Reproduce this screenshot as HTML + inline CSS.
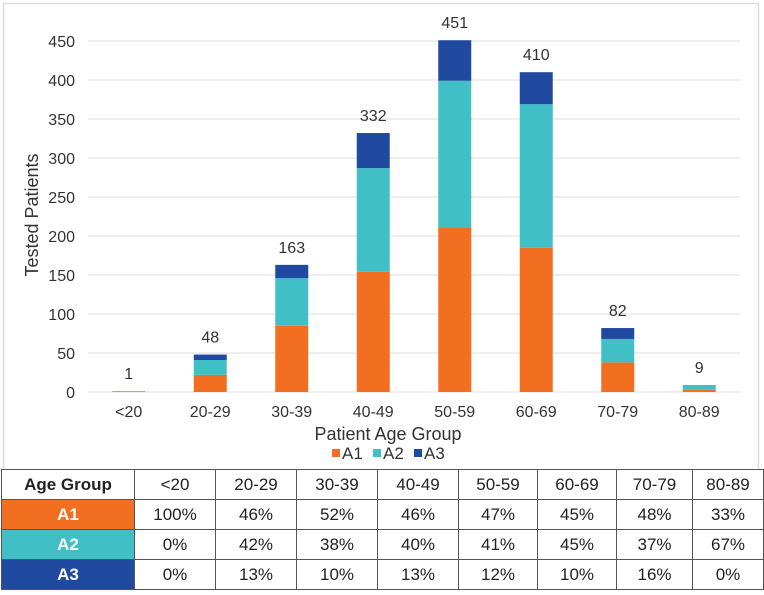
<!DOCTYPE html>
<html><head><meta charset="utf-8"><style>
body{margin:0;background:#fff;font-family:"Liberation Sans",Arial,sans-serif;}
#wrap{position:relative;width:764px;height:595px;overflow:hidden;}
svg{position:absolute;left:0;top:0;}
table{position:absolute;left:1px;top:469px;border-collapse:collapse;font-size:17px;table-layout:fixed;}
td{border:1px solid #555;height:29px;text-align:center;padding:0;color:#222;}
td.h{font-weight:bold;color:#fff;}
</style></head><body><div id="wrap">
<svg id="chart" width="764" height="469"></svg>
<table>
<colgroup><col style="width:133px"><col style="width:81px"><col style="width:81px"><col style="width:81px"><col style="width:81px"><col style="width:79px"><col style="width:79px"><col style="width:76px"><col style="width:71px"></colgroup>
<tr><td style="font-weight:bold">Age Group</td><td>&lt;20</td><td>20-29</td><td>30-39</td><td>40-49</td><td>50-59</td><td>60-69</td><td>70-79</td><td>80-89</td></tr>
<tr><td class="h" style="background:#f26f21">A1</td><td>100%</td><td>46%</td><td>52%</td><td>46%</td><td>47%</td><td>45%</td><td>48%</td><td>33%</td></tr>
<tr><td class="h" style="background:#40c0c6">A2</td><td>0%</td><td>42%</td><td>38%</td><td>40%</td><td>41%</td><td>45%</td><td>37%</td><td>67%</td></tr>
<tr><td class="h" style="background:#1f4aa0">A3</td><td>0%</td><td>13%</td><td>10%</td><td>13%</td><td>12%</td><td>10%</td><td>16%</td><td>0%</td></tr>
</table>
</div>
<script>
const categories=["<20","20-29","30-39","40-49","50-59","60-69","70-79","80-89"];
const a1=[1,22,85,154,211,185,38,3];
const a2=[0,19,61,133,188,184,30,6];
const a3=[0,7,17,45,52,41,14,0];
const totals=[1,48,163,332,451,410,82,9];
const yTicks=[0,50,100,150,200,250,300,350,400,450];
const NS="http://www.w3.org/2000/svg";
const svg=document.getElementById('chart');
const x0=88,x1=740,y0=392,y1=41,yMax=450;
const bw=(x1-x0)/categories.length;
const y=v=>y0-(v/yMax)*(y0-y1);
const xc=i=>x0+bw*(i+0.5);
function mk(t,a,p){const e=document.createElementNS(NS,t);for(const k in a)e.setAttribute(k,a[k]);(p||svg).appendChild(e);return e;}
const frame=mk('rect',{x:3.5,y:3.5,width:755,height:470,fill:'none',stroke:'#ddd','stroke-width':1.5});


yTicks.forEach(v=>{
 const l=mk('line',{x1:x0,x2:x1,y1:y(v),y2:y(v),stroke:'#dcdcdc','stroke-width':1});
 
 
 const t=mk('text',{x:75,y:y(v)+6,'text-anchor':'end','font-size':16,fill:'#333'});
 t.textContent=v;
 
 
});
const cols=['#f26f21','#40c0c6','#1f4aa0'];
categories.forEach((c,i)=>{
 let base=0;
 [a1,a2,a3].forEach((s,k)=>{
  const v=s[i];
  if(v>0){
   const r=mk('rect',{x:xc(i)-16.5,width:33,y:y(base+v),height:y(base)-y(base+v),fill:cols[k]});
   
   
  }
  base+=v;
 });
 const t=mk('text',{x:xc(i),y:y(totals[i])-12,'text-anchor':'middle','font-size':16,fill:'#333'});
 t.textContent=totals[i];
 
 
 const xl=mk('text',{x:xc(i),y:417,'text-anchor':'middle','font-size':16,fill:'#333'});
 xl.textContent=c;
 
 
});
const yt=mk('text',{x:0,y:0,transform:'translate(38,215) rotate(-90)','text-anchor':'middle','font-size':18,fill:'#333'});
yt.textContent='Tested Patients';


const xt=mk('text',{x:388,y:440,'text-anchor':'middle','font-size':18,fill:'#333'});
xt.textContent='Patient Age Group';


['A1','A2','A3'].forEach((n,k)=>{
 const lx=332+k*41;
 const g=mk('g',{});
 
 
 mk('rect',{x:lx,y:449,width:8,height:8,fill:cols[k]},g);
 const t=mk('text',{x:lx+10,y:459,'font-size':17,fill:'#333'},g);
 t.textContent=n;
});
</script></body></html>
